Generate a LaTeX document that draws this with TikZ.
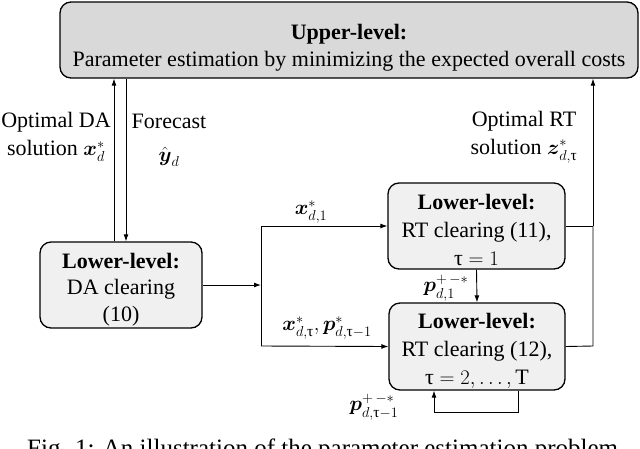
\documentclass[tikz,border=0pt]{standalone}
\usepackage{amsmath}
\usepackage{fontspec}
\setmainfont{Liberation Serif}
\usetikzlibrary{arrows.meta,calc}
\begin{document}
\begin{tikzpicture}[x=1pt,y=-1pt,
  every node/.style={font=\fontsize{22}{28}\selectfont, inner sep=0pt},
  upbox/.style={draw, line width=1.3pt, rounded corners=11pt, fill=black!15},
  lowbox/.style={draw, line width=1.3pt, rounded corners=11pt, fill=black!6, align=center},
  conn/.style={line width=0.9pt},
  arr/.style={conn, -{Latex[length=7pt,width=5pt]}},
  lbl/.style={align=center}]
\useasboundingbox (0,0) rectangle (640,448);
\clip (0,0) rectangle (640,448);
% boxes
\node[upbox, minimum width=578pt, minimum height=76pt, align=center, font=\fontsize{22}{27}\selectfont] (up) at (349,40)
  {\rule{0pt}{31pt}\textbf{Upper-level:}\\Parameter estimation by minimizing the expected overall costs};
\node[lowbox, minimum width=162pt, minimum height=86pt, font=\fontsize{22}{26.5}\selectfont] (da) at (121,285)
  {\rule{0pt}{24pt}\textbf{Lower-level:}\\DA clearing\\(10)};
\node[lowbox, minimum width=177pt, minimum height=86pt] (rt1) at (476.5,226)
  {\rule{0pt}{24pt}\textbf{Lower-level:}\\RT clearing (11),\\$\text{τ} = 1$};
\node[lowbox, minimum width=176pt, minimum height=87pt] (rt2) at (477,346.5)
  {\rule{0pt}{24pt}\textbf{Lower-level:}\\RT clearing (12),\\$\text{τ} = 2, \dots, \mathrm{T}$};
% junction coordinates
\coordinate (j) at (261,285);
\coordinate (j1) at (261,226);
\coordinate (j2) at (261,346);
\coordinate (r1) at (593,226);
\coordinate (r2) at (593,346);
\coordinate (lb) at ($(rt2.south)+(41,0)$);
\coordinate (lc) at ($(rt2.south)+(41,22)$);
\coordinate (ld) at ($(rt2.south)+(-43,22)$);
\coordinate (le) at ($(rt2.south)+(-43,0)$);
% connectors
\draw[arr] ([xshift=-7pt]da.north) -- ([xshift=-7pt]da.north |- up.south);
\draw[arr] ([xshift=5pt]da.north |- up.south) -- ([xshift=5pt]da.north);
\draw[arr] (da.east) -- (j);
\draw[conn] (j1) -- (j2);
\draw[arr] (j1) -- (rt1.west);
\draw[arr] (j2) -- (rt2.west);
\draw[arr] (rt1.south) -- (rt2.north);
\draw[conn] (rt1.east) -- (r1);
\draw[conn] (rt2.east) -- (r2) -- (r1);
\draw[arr] (r1) -- (r1 |- up.south);
\draw[arr] (lb) -- (lc) -- (ld) -- (le);
% labels
\node[lbl] (l1) at (56,137) {Optimal DA\\solution $\boldsymbol{x}_d^{*}$};
\node[lbl] (l2) at (169,140) {Forecast\\[5pt]$\hat{\boldsymbol{y}}_d$};
\node[lbl] (l3) at (524,137) {Optimal RT\\solution $\boldsymbol{z}_{d,\text{τ}}^{*}$};
\node (l4) at (311,212) {$\boldsymbol{x}_{d,1}^{*}$};
\node (l5) at (327,328) {$\boldsymbol{x}_{d,\text{τ}}^{*}, \boldsymbol{p}_{d,\text{τ}-1}^{*}$};
\node (l6) at (446,288) {$\boldsymbol{p}_{d,1}^{+\,-*}$};
\node (l7) at (374,407) {$\boldsymbol{p}_{d,\text{τ}-1}^{+\,-*}$};
\node[anchor=base west, font=\fontsize{25}{28}\selectfont] (cap) at (27,456) {Fig. 1: An illustration of the parameter estimation problem};
\end{tikzpicture}
\end{document}
